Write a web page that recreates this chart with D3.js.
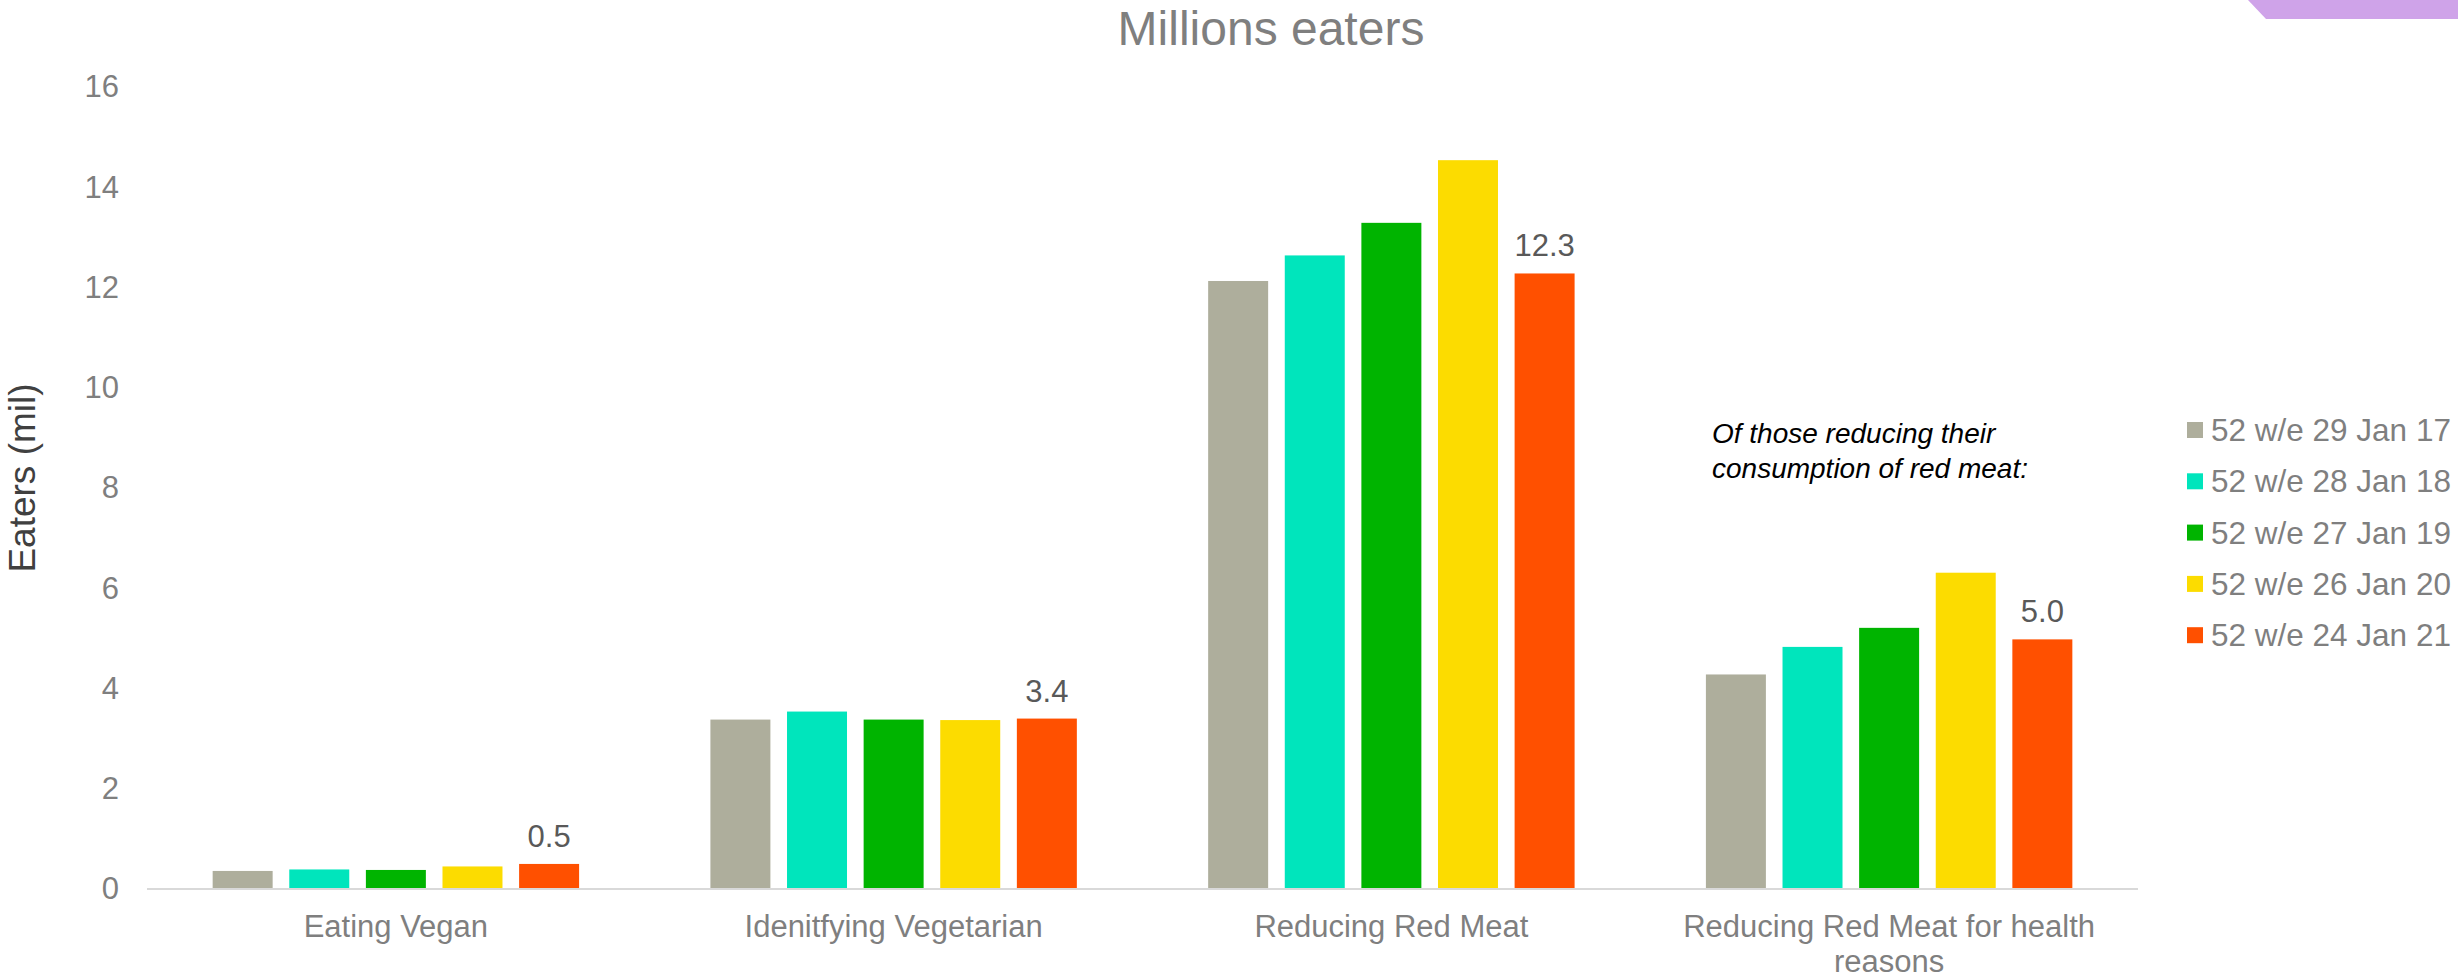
<!DOCTYPE html>
<html>
<head>
<meta charset="utf-8">
<script src="https://cdn.jsdelivr.net/npm/d3@7"></script>
<style>
  body { margin: 0; background: #fff; }
  svg { display: block; font-family: "Liberation Sans", Arial, sans-serif; }
</style>
</head>
<body>
<svg id="chart"></svg>
<script>
// categories along the x axis
const categories = ['Eating Vegan', 'Idenitfying Vegetarian', 'Reducing Red Meat', 'Reducing Red Meat for health reasons'];
// one series per 52-week period
const seriesNames = ['52 w/e 29 Jan 17', '52 w/e 28 Jan 18', '52 w/e 27 Jan 19', '52 w/e 26 Jan 20', '52 w/e 24 Jan 21'];
const jan17 = [0.36, 3.38, 12.13, 4.28];
const jan18 = [0.39, 3.54, 12.64, 4.83];
const jan19 = [0.38, 3.38, 13.29, 5.21];
const jan20 = [0.45, 3.37, 14.54, 6.31];
const jan21 = [0.50, 3.40, 12.28, 4.98];
const yTicks = [0, 2, 4, 6, 8, 10, 12, 14, 16];
const seriesColors = ['#aeae9c', '#00e5bc', '#00b400', '#fcdc00', '#ff5000'];

const seriesValues = [jan17, jan18, jan19, jan20, jan21];

const W = 2458, H = 980;
const svg = d3.select('#chart').attr('width', W).attr('height', H);

// purple corner tab
svg.append('path')
  .attr('d', 'M2248,0 L2458,0 L2458,19 L2266,19 Z')
  .attr('fill', '#cfa3e9');

const x0 = d3.scaleBand().domain(categories).range([147, 2138]);
const x1 = d3.scaleBand().domain(seriesNames).range([0, x0.bandwidth()])
  .paddingInner(0.217).paddingOuter(0.857);
const y = d3.scaleLinear().domain([0, 16]).range([889, 87]);

// title
svg.append('text')
  .attr('x', 1271).attr('y', 45)
  .attr('text-anchor', 'middle')
  .attr('font-size', 48)
  .attr('fill', '#7f7f7f')
  .text('Millions eaters');

// y axis (labels only)
const yAxis = svg.append('g')
  .attr('transform', 'translate(147,0)')
  .call(d3.axisLeft(y).tickValues(yTicks).tickSize(0).tickPadding(28));
yAxis.select('.domain').remove();
yAxis.selectAll('text')
  .attr('font-size', 31)
  .attr('fill', '#7f7f7f')
  .attr('font-family', '"Liberation Sans", Arial, sans-serif');

svg.append('text')
  .attr('transform', 'translate(35,' + 478 + ') rotate(-90)')
  .attr('text-anchor', 'middle')
  .attr('font-size', 37)
  .attr('fill', '#404040')
  .text('Eaters (mil)');

// bars
const groups = svg.append('g').selectAll('g')
  .data(categories)
  .join('g')
  .attr('transform', d => 'translate(' + x0(d) + ',0)');

groups.selectAll('rect')
  .data((c, ci) => seriesNames.map((s, si) => ({ s, si, v: seriesValues[si][ci] })))
  .join('rect')
  .attr('x', d => x1(d.s))
  .attr('y', d => y(d.v))
  .attr('width', x1.bandwidth())
  .attr('height', d => y(0) - y(d.v))
  .attr('fill', d => seriesColors[d.si]);

// value labels on latest period
const last = seriesNames.length - 1;
groups.append('text')
  .attr('x', x1(seriesNames[last]) + x1.bandwidth() / 2)
  .attr('y', (c, ci) => y(seriesValues[last][ci]) - 17)
  .attr('text-anchor', 'middle')
  .attr('font-size', 31)
  .attr('fill', '#595959')
  .text((c, ci) => d3.format('.1f')(seriesValues[last][ci]));

// baseline
svg.append('line')
  .attr('x1', 147).attr('x2', 2138)
  .attr('y1', y(0)).attr('y2', y(0))
  .attr('stroke', '#d9d9d9').attr('stroke-width', 2);

// category labels, wrapped
svg.append('g').selectAll('text')
  .data(categories)
  .join('text')
  .attr('x', d => x0(d) + x0.bandwidth() / 2)
  .attr('y', 937)
  .attr('text-anchor', 'middle')
  .attr('font-size', 31)
  .attr('fill', '#7f7f7f')
  .each(function (d) {
    const el = d3.select(this);
    const words = d.split(' ');
    let line = [];
    let tspan = el.append('tspan').attr('x', el.attr('x')).attr('dy', 0);
    words.forEach(w => {
      line.push(w);
      tspan.text(line.join(' '));
      if (tspan.node().getComputedTextLength() > 440 && line.length > 1) {
        line.pop();
        tspan.text(line.join(' '));
        line = [w];
        tspan = el.append('tspan').attr('x', el.attr('x')).attr('dy', 35).text(w);
      }
    });
  });

// annotation
const note = svg.append('text')
  .attr('font-size', 28)
  .attr('font-style', 'italic')
  .attr('fill', '#000');
note.append('tspan').attr('x', 1712).attr('y', 443).text('Of those reducing their');
note.append('tspan').attr('x', 1712).attr('y', 478).text('consumption of red meat:');

// legend
const legend = svg.append('g').selectAll('g')
  .data(seriesNames)
  .join('g')
  .attr('transform', (d, i) => 'translate(2187,' + (430 + i * 51.3) + ')');
legend.append('rect')
  .attr('x', 0).attr('y', -8)
  .attr('width', 16).attr('height', 16)
  .attr('fill', (d, i) => seriesColors[i]);
legend.append('text')
  .attr('x', 24).attr('y', 11)
  .attr('font-size', 31.5)
  .attr('fill', '#7f7f7f')
  .text(d => d);
</script>
</body>
</html>
